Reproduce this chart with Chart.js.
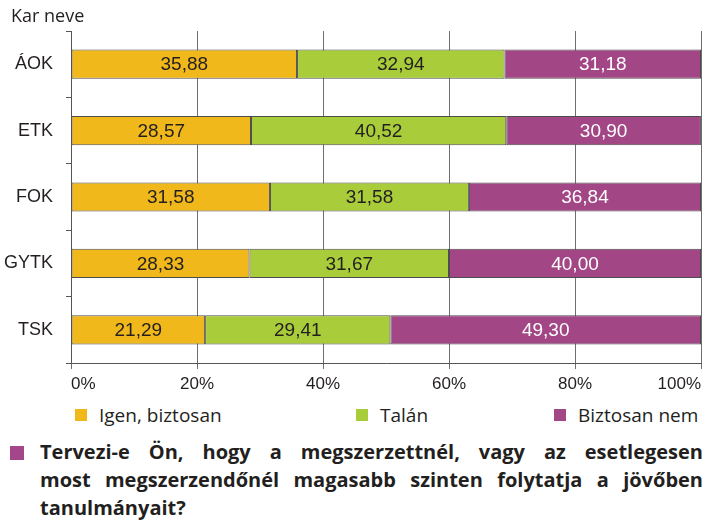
<!DOCTYPE html>
<html>
<head>
<meta charset="utf-8">
<script src="https://cdn.jsdelivr.net/npm/chart.js@4.4.1/dist/chart.umd.min.js"></script>
<style>
  body { margin: 0; background: #fff; width: 707px; height: 520px; position: relative; overflow: hidden;
         font-family: "Open Sans", "Liberation Sans", sans-serif; color: #231f20; }
  #chartBox { position: absolute; left: 0; top: 0; width: 707px; height: 398px; }
  #axisName { position: absolute; left: 11px; top: 3px; font-size: 18px; }
  .leg { position: absolute; top: 403px; font-size: 19px; line-height: 24px; }
  .leg i { position: absolute; top: 6px; width: 12px; height: 12px; }
  #bullet { position: absolute; left: 10px; top: 446px; width: 14px; height: 14px; background: #a3478a; }
  #question { position: absolute; left: 40px; top: 438px; width: 663px; font-weight: 700; font-size: 20px;
              line-height: 28px; font-family: "Open Sans", sans-serif; }
  #question div { text-align: justify; text-align-last: justify; white-space: nowrap; }
  #question div.last { text-align-last: left; }
</style>
</head>
<body>
<div id="chartBox"><canvas id="bar" width="707" height="398"></canvas></div>
<div id="axisName">Kar neve</div>
<div id="legend"></div>
<div id="bullet"></div>
<div id="question">
  <div>Tervezi-e Ön, hogy a megszerzettnél, vagy az esetlegesen</div>
  <div>most megszerzendőnél magasabb szinten folytatja a jövőben</div>
  <div class="last">tanulmányait?</div>
</div>
<script>
// Karok és a válaszok megoszlása (%)
const categories = ['ÁOK', 'ETK', 'FOK', 'GYTK', 'TSK'];
const igen = [35.88, 28.57, 31.58, 28.33, 21.29];
const talan = [32.94, 40.52, 31.58, 31.67, 29.41];
const nem = [31.18, 30.90, 36.84, 40.00, 49.30];
const seriesNames = ['Igen, biztosan', 'Talán', 'Biztosan nem'];
const xTicks = [0, 20, 40, 60, 80, 100];

const colors = ['#f0b81b', '#a8cc3a', '#a24686'];
const labelColors = ['#231f20', '#231f20', '#ffffff'];

// legend below the chart
const legendPos = [75, 356, 554];
const legend = document.getElementById('legend');
seriesNames.forEach((name, i) => {
  const d = document.createElement('div');
  d.className = 'leg';
  d.style.left = legendPos[i] + 'px';
  d.innerHTML = '<i style="left:0;background:' + colors[i] + '"></i><span style="margin-left:24px">' + name + '</span>';
  legend.appendChild(d);
});

// values written in the middle of each segment
const valueLabels = {
  id: 'valueLabels',
  afterDatasetsDraw(chart) {
    const ctx = chart.ctx;
    ctx.save();
    ctx.font = '19px "Liberation Sans", Arial, sans-serif';
    ctx.textAlign = 'center';
    ctx.textBaseline = 'middle';
    chart.data.datasets.forEach((ds, i) => {
      chart.getDatasetMeta(i).data.forEach((el, j) => {
        ctx.fillStyle = labelColors[i];
        ctx.fillText(ds.data[j].toFixed(2).replace('.', ','), (el.x + el.base) / 2, el.y + 1);
      });
    });
    ctx.restore();
  }
};

const series = [igen, talan, nem];
new Chart(document.getElementById('bar'), {
  type: 'bar',
  data: {
    labels: categories,
    datasets: series.map((data, i) => ({
      label: seriesNames[i],
      data: data,
      backgroundColor: colors[i],
      borderColor: '#4d4d4d',
      borderWidth: 1,
      borderSkipped: false,
      barPercentage: 0.44,
      categoryPercentage: 1
    }))
  },
  options: {
    indexAxis: 'y',
    responsive: false,
    animation: false,
    layout: { padding: { top: 31, right: 6, left: 0, bottom: 0 } },
    plugins: { legend: { display: false }, tooltip: { enabled: false } },
    scales: {
      x: {
        stacked: true,
        min: 0,
        max: 100,
        afterBuildTicks: (scale) => { scale.ticks = xTicks.map(v => ({ value: v })); },
        afterFit: (scale) => { scale.height = 35; },
        ticks: {
          align: 'inner',
          padding: 5,
          color: '#231f20',
          font: { family: '"Liberation Sans", Arial, sans-serif', size: 17 },
          callback: (v) => v + '%'
        },
        grid: { color: '#6e6e6e', lineWidth: 1, tickLength: 6 },
        border: { color: '#555', width: 1 }
      },
      y: {
        stacked: true,
        afterFit: (scale) => { scale.width = 71; },
        ticks: {
          padding: 13,
          color: '#231f20',
          font: { family: '"Liberation Sans", Arial, sans-serif', size: 18 }
        },
        grid: { drawOnChartArea: false, drawTicks: true, tickLength: 5, color: '#555' },
        border: { color: '#555', width: 1 }
      }
    }
  },
  plugins: [valueLabels]
});
</script>
</body>
</html>
